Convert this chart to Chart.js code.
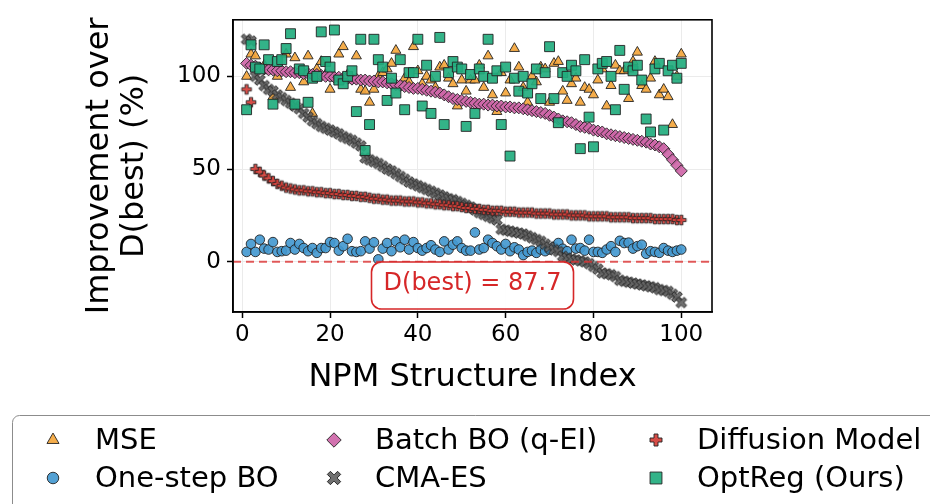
<!DOCTYPE html>
<html>
<head>
<meta charset="utf-8">
<script src="https://cdn.jsdelivr.net/npm/chart.js@4.4.1/dist/chart.umd.min.js"></script>
<style>
  html, body { margin: 0; padding: 0; background: #fff; }
  #chart { display: block; }
</style>
</head>
<body>
<canvas id="chart" width="930" height="504"></canvas>
<script>
// NPM structure index (x axis)
const structureIndex = [
  1, 2, 3, 4, 5, 6, 7, 8, 9, 10, 11, 12, 13, 14, 15, 16, 17, 18, 19, 20,
  21, 22, 23, 24, 25, 26, 27, 28, 29, 30, 31, 32, 33, 34, 35, 36, 37, 38, 39, 40,
  41, 42, 43, 44, 45, 46, 47, 48, 49, 50, 51, 52, 53, 54, 55, 56, 57, 58, 59, 60,
  61, 62, 63, 64, 65, 66, 67, 68, 69, 70, 71, 72, 73, 74, 75, 76, 77, 78, 79, 80,
  81, 82, 83, 84, 85, 86, 87, 88, 89, 90, 91, 92, 93, 94, 95, 96, 97, 98, 99, 100
];

// improvement over D(best) in %, one value per structure
const mse = [
  100, 112, 111, 104, 106, 103, 89, 100, 103, 112, 94, 110, 102, 97, 111, 80, 104, 108, 101, 93,
  99, 112, 116, 101, 98, 111, 93, 92, 86, 93, 100, 102, 104, 107, 114, 95, 99, 97, 116, 103,
  96, 100, 98, 94, 105, 106, 99, 96, 84, 98, 92, 98, 98, 106, 94, 111, 90, 81, 102, 91,
  98, 115, 105, 94, 86, 100, 97, 105, 104, 86, 107, 108, 92, 87, 96, 99, 86, 94, 93, 90,
  98, 104, 84, 95, 106, 103, 103, 88, 108, 113, 95, 93, 99, 108, 90, 93, 89, 74, 100, 112
];
const oneStepBO = [
  5.3, 9.6, 5.3, 11.9, 7.1, 6.6, 10.6, 5.3, 5.7, 6, 10.1, 6.6, 9.6, 7.4, 5.7, 7.4, 4.8, 7.4, 7.4, 10.6,
  10.1, 6, 8.4, 12.4, 5.7, 5.3, 5.7, 11, 7.1, 10.5, 1.3, 7.1, 10.1, 5.7, 11, 7.8, 11.9, 6.6, 10.6, 7.4,
  6, 7.4, 8.9, 6.6, 5.3, 11, 6.6, 9.2, 11, 7.4, 6, 6, 15.8, 6.6, 7.4, 11.9, 10.1, 8.4, 6.6, 9.6,
  5.7, 7.8, 6.6, 3.6, 5.3, 6, 4.8, 6.6, 5.7, 6.6, 8, 10.1, 7, 5.7, 11.9, 7.1, 7.4, 6, 11.9, 5.3,
  5.3, 4.8, 6.6, 8.4, 5.3, 11.3, 10.1, 10.3, 7.1, 8.4, 9.2, 4.3, 5.7, 5.3, 4.8, 7.4, 6, 5.3, 6, 6.6
];
const batchBO = [
  107, 106, 105.5, 104.5, 104, 103.5, 103.5, 103, 103, 102.5, 102.5, 102, 102, 101.5, 101.5, 101, 101, 100.5, 100, 100,
  99.5, 99.5, 99, 99, 98.5, 98.5, 98, 98, 97.5, 97.5, 97, 97, 96.5, 96, 95.5, 95, 94.5, 94, 93.5, 93.5,
  93, 92.5, 92, 91.5, 91, 90, 89, 88, 87.5, 87, 86.5, 86, 85.5, 85, 85, 84.5, 84.5, 84, 84, 83.5,
  83.5, 83, 83, 82.5, 82, 81.5, 81, 80.5, 80, 79, 78, 77, 76, 75.5, 75, 74, 73, 72.5, 72, 71,
  70.5, 70, 69, 68.5, 68, 67.5, 67, 66.5, 66, 65.5, 65, 64.5, 63.5, 63, 62, 61, 58, 55, 52, 49
];
const cmaES = [
  120, 119, 100, 98, 95, 93, 92, 90, 88.5, 87, 85.5, 84, 82.5, 80, 78, 76, 74.5, 73, 72, 71,
  70, 69, 67.5, 66.5, 65.5, 64, 62.5, 56, 55, 54, 53, 51.5, 50, 49, 47.5, 46, 44.5, 43, 42, 41,
  40, 39, 38, 37, 36, 35, 34, 33.5, 32.5, 31.5, 30.5, 29.5, 28, 26.5, 25.5, 24.5, 23.5, 22.5, 17.5, 17,
  16.5, 16, 15.5, 15, 14, 13, 12, 11, 9.5, 8, 6.5, 5.5, 3, 2, 1.5, 1, 0.5, 0, -1, -2.5,
  -4, -6, -6.5, -7, -8, -10, -10.5, -11, -11.5, -12, -12.5, -13, -13.5, -14, -15, -15.5, -16, -17.5, -19, -22
];
const diffusion = [
  93, 86, 50, 48.5, 46.5, 45, 43.5, 42, 41, 40, 39.5, 39, 38.5, 38.5, 38, 38, 37.5, 37.5, 37, 37,
  36.5, 36.5, 36, 36, 35.5, 35.5, 35, 35, 34.5, 34, 34, 33.5, 33.5, 33, 33, 33, 32.5, 32.5, 32.5, 32,
  32, 31.5, 31.5, 31, 31, 30.5, 30.5, 30, 30, 29.5, 29, 29, 28.5, 28.5, 28, 28, 27.5, 27.5, 27.5, 27,
  27, 27, 26.5, 26.5, 26.5, 26.5, 26, 26, 26, 26, 25.5, 25.5, 25.5, 25.5, 25, 25, 25, 25, 24.5, 24.5,
  24.5, 24.5, 24.5, 24, 24, 24, 24, 24, 23.5, 23.5, 23.5, 23.5, 23.5, 23, 23, 23, 23, 23, 22.5, 22.5
];
const optReg = [
  82, 117, 105, 104, 117, 109, 85, 108, 109, 115, 123, 85, 104, 103, 86, 99, 100, 124, 108, 105,
  125, 98, 96, 100, 103, 81, 120, 60, 74, 120, 109, 105, 87, 99, 91, 109, 82, 102, 102, 120,
  84, 106, 80, 100, 121, 74, 102, 108, 105, 104, 73, 101, 80, 104, 100, 120, 99, 103, 74, 105,
  57, 99, 92, 100, 91, 96, 104, 88, 102, 116, 88, 75, 102, 100, 106, 103, 61, 109, 78, 62,
  104, 107, 108, 100, 82, 114, 93, 105, 103, 106, 98, 77, 70, 104, 107, 71, 103, 106, 99, 107
];

const xTicks = [0, 20, 40, 60, 80, 100];
const yTicks = [0, 50, 100];
const bestValue = 87.7;

const FONT = "'DejaVu Sans', 'Liberation Sans', sans-serif";
const EDGE = '#222';

// filled "X" and "+" markers like matplotlib's X / P
function filledMarker(kind, fill, scale) {
  const size = 20;
  const c = document.createElement('canvas');
  c.width = size;
  c.height = size;
  const g = c.getContext('2d');
  const arm = (kind === 'x' ? 1.75 : 1.6) * scale;
  const len = (kind === 'x' ? 5.8 : 4.8) * scale;
  const pts = [[-arm, -len], [arm, -len], [arm, -arm], [len, -arm], [len, arm], [arm, arm],
    [arm, len], [-arm, len], [-arm, arm], [-len, arm], [-len, -arm], [-arm, -arm]];
  g.translate(size / 2, size / 2);
  if (kind === 'x') g.rotate(Math.PI / 4);
  g.beginPath();
  pts.forEach(([px, py], i) => i ? g.lineTo(px, py) : g.moveTo(px, py));
  g.closePath();
  g.fillStyle = fill;
  g.fill();
  g.strokeStyle = EDGE;
  g.lineWidth = 0.9;
  g.stroke();
  return c;
}

const cmaColor = 'rgba(100,100,100,0.92)';
const diffColor = 'rgba(212,62,55,0.92)';
const cmaMarker = filledMarker('x', cmaColor, 1);
const diffMarker = filledMarker('plus', diffColor, 1);

const series = [
  { label: 'MSE', data: mse, style: 'triangle', radius: 5.8, color: 'rgba(244,166,60,0.92)', order: 5 },
  { label: 'One-step BO', data: oneStepBO, style: 'circle', radius: 4.8, color: 'rgba(68,153,208,0.92)', order: 4 },
  { label: 'Batch BO (q-EI)', data: batchBO, style: 'rectRot', radius: 6, color: 'rgba(206,102,168,0.92)', order: 3 },
  { label: 'CMA-ES', data: cmaES, style: cmaMarker, radius: 5, color: cmaColor, order: 2, big: filledMarker('x', cmaColor, 1.25) },
  { label: 'Diffusion Model', data: diffusion, style: diffMarker, radius: 5, color: diffColor, order: 1, big: filledMarker('plus', diffColor, 1.25) },
  { label: 'OptReg (Ours)', data: optReg, style: 'rect', radius: 7, color: 'rgba(34,172,126,0.92)', order: 0 }
];

const datasets = series.map(s => ({
  label: s.label,
  data: structureIndex.map((x, i) => ({ x: x, y: s.data[i] })),
  pointStyle: s.style,
  pointRadius: s.radius,
  pointHoverRadius: s.radius,
  backgroundColor: s.color,
  borderColor: EDGE,
  borderWidth: 0.9,
  order: s.order
}));

function legendMarker(ctx, s, x, y) {
  ctx.save();
  ctx.fillStyle = s.color;
  ctx.strokeStyle = EDGE;
  ctx.lineWidth = 0.9;
  const r = s.radius * 1.2;
  if (s.big) {
    ctx.drawImage(s.big, x - s.big.width / 2, y - s.big.height / 2);
    ctx.restore();
    return;
  }
  ctx.beginPath();
  if (s.style === 'circle') {
    ctx.arc(x, y, r, 0, Math.PI * 2);
  } else if (s.style === 'triangle') {
    for (let k = 0; k < 3; k++) {
      const a = k * 2 * Math.PI / 3;
      const px = x + Math.sin(a) * r, py = y - Math.cos(a) * r;
      k ? ctx.lineTo(px, py) : ctx.moveTo(px, py);
    }
    ctx.closePath();
  } else if (s.style === 'rectRot') {
    ctx.moveTo(x - r, y); ctx.lineTo(x, y - r); ctx.lineTo(x + r, y); ctx.lineTo(x, y + r);
    ctx.closePath();
  } else {
    const h = r * Math.SQRT1_2;
    ctx.rect(x - h, y - h, 2 * h, 2 * h);
  }
  ctx.fill();
  ctx.stroke();
  ctx.restore();
}

function roundRect(ctx, x, y, w, h, r) {
  ctx.beginPath();
  ctx.moveTo(x + r, y);
  ctx.arcTo(x + w, y, x + w, y + h, r);
  ctx.arcTo(x + w, y + h, x, y + h, r);
  ctx.arcTo(x, y + h, x, y, r);
  ctx.arcTo(x, y, x + w, y, r);
  ctx.closePath();
}

const extras = {
  id: 'extras',
  afterDatasetsDraw(chart) {
    const { ctx, chartArea: a, scales: { y } } = chart;
    // D(best) reference line at 0 %
    const y0 = y.getPixelForValue(0);
    ctx.save();
    ctx.strokeStyle = 'rgba(220,50,50,0.8)';
    ctx.lineWidth = 2;
    ctx.setLineDash([8, 5]);
    ctx.beginPath();
    ctx.moveTo(a.left, y0);
    ctx.lineTo(a.right, y0);
    ctx.stroke();
    ctx.restore();
  },
  afterDraw(chart) {
    const { ctx, chartArea: a } = chart;
    ctx.save();

    // axes frame
    ctx.strokeStyle = '#000';
    ctx.lineWidth = 1.6;
    ctx.strokeRect(a.left, a.top, a.right - a.left, a.bottom - a.top);

    // annotation box
    const cx = (a.left + a.right) / 2;
    ctx.fillStyle = 'rgba(255,255,255,0.92)';
    ctx.strokeStyle = '#d62728';
    ctx.lineWidth = 1.6;
    roundRect(ctx, cx - 101, 262, 202, 47, 10);
    ctx.fill();
    ctx.stroke();
    ctx.fillStyle = '#d62728';
    ctx.font = '24px ' + FONT;
    ctx.textAlign = 'center';
    ctx.textBaseline = 'middle';
    ctx.fillText('D(best) = ' + bestValue, cx, 284);

    // axis titles
    ctx.fillStyle = '#000';
    ctx.font = '32px ' + FONT;
    ctx.textBaseline = 'alphabetic';
    ctx.fillText('NPM Structure Index', cx, 386);
    ctx.save();
    ctx.translate(0, (a.top + a.bottom) / 2);
    ctx.rotate(-Math.PI / 2);
    ctx.fillText('Improvement over', 0, 108);
    ctx.fillText('D(best) (%)', 0, 143);
    ctx.restore();

    // legend, filled column by column
    ctx.strokeStyle = '#8c8c8c';
    ctx.lineWidth = 1;
    ctx.fillStyle = '#fff';
    roundRect(ctx, 12.5, 415.5, 940, 110, 7);
    ctx.fill();
    ctx.stroke();
    const markerX = [53, 334, 656];
    const textX = [95, 375, 697];
    const rowY = [440, 478];
    ctx.font = '29px ' + FONT;
    ctx.textAlign = 'left';
    ctx.textBaseline = 'middle';
    series.forEach((s, i) => {
      const col = Math.floor(i / 2), row = i % 2;
      legendMarker(ctx, s, markerX[col], rowY[row]);
      ctx.fillStyle = '#000';
      ctx.fillText(s.label, textX[col], rowY[row] + 1);
    });
    ctx.restore();
  }
};

const tickFont = { family: FONT, size: 23 };

new Chart(document.getElementById('chart'), {
  type: 'scatter',
  data: { datasets: datasets },
  options: {
    responsive: false,
    devicePixelRatio: 1,
    animation: false,
    layout: { padding: { left: 0, right: 218, top: 15, bottom: 152 } },
    plugins: {
      legend: { display: false },
      tooltip: { enabled: false }
    },
    scales: {
      x: {
        type: 'linear',
        min: -2.1,
        max: 107,
        afterBuildTicks: s => { s.ticks = xTicks.map(v => ({ value: v })); },
        afterFit: s => { s.height = 40; },
        ticks: { font: tickFont, color: '#000', padding: 3, maxRotation: 0 },
        grid: { color: '#ebebeb', lineWidth: 1, tickColor: '#000', tickLength: 6, tickWidth: 1.5 },
        border: { color: '#000', width: 1.6 }
      },
      y: {
        type: 'linear',
        min: -27.1,
        max: 130.5,
        afterBuildTicks: s => { s.ticks = yTicks.map(v => ({ value: v })); },
        afterFit: s => { s.width = 233; },
        ticks: { font: tickFont, color: '#000', padding: 6 },
        grid: { color: '#ebebeb', lineWidth: 1, tickColor: '#000', tickLength: 6, tickWidth: 1.5 },
        border: { color: '#000', width: 1.6 }
      }
    }
  },
  plugins: [extras]
});
</script>
</body>
</html>
